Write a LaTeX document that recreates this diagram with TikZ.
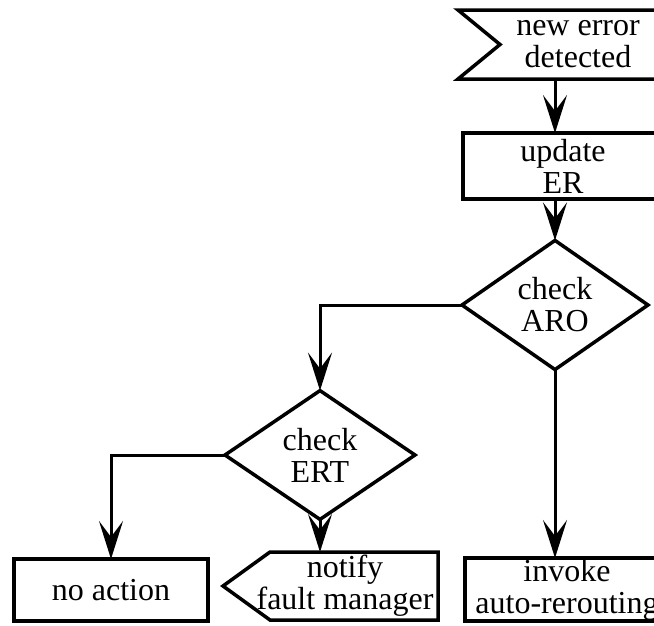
\documentclass[tikz,border=0pt]{standalone}
\usepackage{fontspec}
\setmainfont{Liberation Serif}
\usetikzlibrary{arrows.meta,shapes.geometric}
\tikzset{
  flow/.style={line width=3.5pt},
  arr/.style={line width=3pt, -{Stealth[length=38pt,width=24pt,inset=16pt]}},
  lbl/.style={align=center, font=\fontsize{32}{32}\selectfont, inner sep=0pt, outer sep=0pt},
  box/.style={lbl, draw, flow, rectangle},
  decision/.style={lbl, draw, flow, diamond},
  body/.style={lbl, rectangle},
}
\begin{document}
\begin{tikzpicture}[x=1pt,y=-1pt]
\useasboundingbox (0,0) rectangle (654,625);
\clip (0,0) rectangle (654,625);

% incoming event (signal shape, notch on the left)
\node[body, minimum width=240, minimum height=69] (new) at (578,44.5) {new error\\detected};
\draw[flow] (new.north west) -- (new.north east) -- (new.south east) -- (new.south west)
  -- ([xshift=42pt]new.west) -- cycle;

% processing steps
\node[box, minimum width=200, minimum height=66] (upd) at (563,166) {update\\ER};
\node[decision, minimum width=186, minimum height=94] (aro) at (555,305) {check\\ARO};
\node[decision, minimum width=190, minimum height=95] (ert) at (320,455) {check\\ERT};

% outcomes
\node[box, minimum width=194, minimum height=62] (na) at (111,590) {no action};
\node[body, minimum width=186, minimum height=68] (nf) at (345,586) {notify\\fault manager};
\draw[flow] (nf.north east) -- (nf.south east) -- ([xshift=18pt]nf.south west)
  -- ([xshift=-29pt]nf.west) -- ([xshift=18pt]nf.north west) -- cycle;
\node[box, minimum width=204, minimum height=63] (inv) at (567,589.5) {invoke\\auto-rerouting};

% connectors
\draw[arr] (aro.north |- new.south) -- (aro.north |- upd.north);
\draw[arr] (aro.north |- upd.south) -- (aro.north);
\draw[arr] (aro.west) -| (ert.north);
\draw[arr] (aro.south) -- (aro.south |- inv.north);
\draw[arr] (ert.west) -| (na.north);
\draw[arr] (ert.south) -- (ert.south |- nf.north);
\end{tikzpicture}
\end{document}
